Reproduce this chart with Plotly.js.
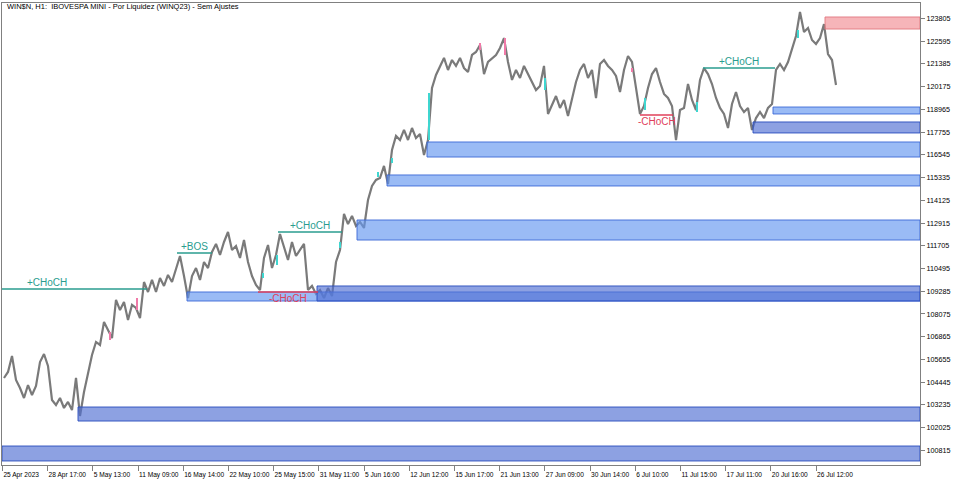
<!DOCTYPE html>
<html>
<head>
<meta charset="utf-8">
<script src="https://cdn.plot.ly/plotly-3.0.1.min.js"></script>
<style>
html,body{margin:0;padding:0;background:#fff;}
#chart{width:960px;height:487px;}
</style>
</head>
<body>
<div id="chart"></div>
<script>
// ---- price path (H1 closes, sampled) ----
const prices = [
104670,104990,105840,104565,104135,103605,104295,103765,104245,105520,
105945,105310,103500,103235,103605,103075,103395,102965,104670,102650,
103925,104830,105895,106585,106425,107650,107225,106795,108820,108285,
108715,107755,108555,108395,107860,109775,109245,109885,109245,109990,
109565,110150,109775,110520,111160,110095,108925,110095,110520,109885,
110840,110520,111375,111800,111215,111905,112435,111480,111690,111055,
112010,110840,110095,109615,109350,111055,111745,110520,111215,112330,
111585,110945,111905,111160,111480,111800,109350,109565,109140,109350,
108925,109455,109030,110840,111480,113395,112860,113290,112755,112970,
112650,114140,114885,115205,115310,115950,114990,116800,117545,117330,
117865,117330,117970,117435,117650,116535,117330,120100,120790,121270,
121695,121055,121585,121270,121695,121160,120950,121855,122015,122385,
120840,121480,121695,121855,122225,122755,121480,120525,121055,120630,
121270,120840,120415,119990,120205,121270,118715,119245,119670,119035,
119460,118610,119460,120415,121055,121375,120630,121055,119565,121375,
121585,121270,121055,120735,119885,121055,121800,121480,120100,118715,
119140,120100,120840,121160,120415,119780,119565,119140,117330,118925,
119035,120310,119460,118925,120525,121160,120840,120310,119565,119035,
118715,117970,119245,119885,119140,118820,119035,117865,118500,118820,
118500,119035,119245,121055,121375,121055,121480,122120,122865,124140,
123075,123290,122650,122440,122755,123500,121905,121585,120255
];

// ---- highlighted impulse candles ----
const impulseIdx  = [64.75, 68.25, 84, 93.5, 97, 106.25, 135.25, 160.25, 173.25, 198.5, 26.5, 33.25, 119, 125.25, 157];
const impulseLow  = [109990,110680,111585,115365,116105,117330,119990,118925,118820,122755,106690,108285,122120,121855,120950];
const impulseHigh = [110255,111215,111905,115630,116375,119830,120630,119565,119355,123185,107115,108925,122490,122755,121160];
const impulseDir  = ['up','up','up','up','up','up','up','up','up','up','down','down','down','down','down'];

// ---- order-block zones ----
const zoneStart  = [18.5, -0.5, 45.75, 78.25, 88.25, 95.75, 105.75, 192.25, 187.25, 205.25];
const zoneTop    = [103125,101050,109245,109565,113075,115470,117225,119085,118290,123875];
const zoneBottom = [102380,100255,108765,108765,112010,114885,116425,118715,117705,123235];
const zoneKind   = ['deep','deep','light','deep','light','light','light','light','deep','supply'];

// ---- market-structure breaks ----
const structLabel = ['+CHoCH','+BOS','+CHoCH','-CHoCH','-CHoCH','+CHoCH'];
const structFrom  = [-14.25, 43.25, 68.5, 63.5, 159, 174.75];
const structTo    = [35.75, 52, 84.5, 78.5, 167.25, 192.75];
const structLevel = [109405, 111320, 112435, 109245, 118660, 121160];

// ---- axis labels ----
const timeLabels = ['25 Apr 2023','28 Apr 17:00','5 May 13:00','11 May 09:00','16 May 14:00','22 May 10:00',
  '25 May 15:00','31 May 11:00','5 Jun 16:00','12 Jun 12:00','15 Jun 17:00','21 Jun 13:00','27 Jun 09:00',
  '30 Jun 14:00','6 Jul 10:00','11 Jul 15:00','17 Jul 11:00','20 Jul 16:00','26 Jul 12:00'];
const priceTicks = [100815,102025,103235,104445,105655,106865,108075,109285,110495,111705,
  112915,114125,115335,116545,117755,118965,120175,121385,122595,123805];

const X_MAX = 229;
const TEAL = '#2a9d8f';
const RED = '#e0405a';

const traces = [];
traces.push({
  type:'scatter', mode:'lines',
  x: prices.map((_, i) => i), y: prices,
  line:{color:'#7a7a7a', width:2.2},
  hoverinfo:'skip', showlegend:false
});
['up','down'].forEach(dir => {
  const xs = [], ys = [];
  impulseIdx.forEach((xi, k) => {
    if (impulseDir[k] !== dir) return;
    xs.push(xi, xi, null); ys.push(impulseLow[k], impulseHigh[k], null);
  });
  traces.push({type:'scatter', mode:'lines', x:xs, y:ys,
    line:{color: dir === 'up' ? '#3fd6d0' : '#f07aa8', width:2},
    hoverinfo:'skip', showlegend:false});
});

const zoneStyle = {
  light:  {fill:'rgba(100,150,240,0.65)', line:'rgba(60,105,215,0.9)'},
  deep:   {fill:'rgba(80,110,210,0.65)',  line:'rgba(40,75,190,0.9)'},
  supply: {fill:'rgba(235,90,100,0.45)',  line:'rgba(225,120,128,0.9)'}
};
const shapes = [];
zoneStart.forEach((x0, k) => {
  const st = zoneStyle[zoneKind[k]];
  shapes.push({type:'rect', xref:'x', yref:'y', x0:x0, x1:X_MAX, y0:zoneBottom[k], y1:zoneTop[k],
    fillcolor:st.fill, line:{color:st.line, width:1}, layer:'above'});
});
const annotations = [];
structLabel.forEach((lab, k) => {
  const bull = lab[0] === '+';
  const col = bull ? TEAL : RED;
  shapes.push({type:'line', xref:'x', yref:'y', x0:structFrom[k], x1:structTo[k],
    y0:structLevel[k], y1:structLevel[k], line:{color:col, width:1.5}, layer:'above'});
  annotations.push({xref:'x', yref:'y', x:(structFrom[k] + structTo[k]) / 2, y:structLevel[k],
    text:lab, showarrow:false, xanchor:'center', yanchor: bull ? 'bottom' : 'top',
    yshift: bull ? -1 : 1,
    font:{family:'Liberation Sans, Arial, sans-serif', size:10, color:col}});
});
annotations.push({xref:'paper', yref:'paper', x:0.003, y:0.992, xanchor:'left', yanchor:'middle',
  text:'WIN$N, H1:\u00a0 IBOVESPA MINI - Por Liquidez (WINQ23) - Sem Ajustes', showarrow:false,
  font:{family:'Liberation Sans, Arial, sans-serif', size:7.5, color:'#000'}});

const layout = {
  width:960, height:487,
  margin:{l:2, r:40, t:3, b:22},
  paper_bgcolor:'#fff', plot_bgcolor:'#fff',
  showlegend:false,
  xaxis:{
    range:[-0.5, X_MAX], showgrid:false, zeroline:false,
    showline:true, linecolor:'#808080', linewidth:1, mirror:true,
    ticks:'outside', ticklen:5, tickcolor:'#808080',
    tickvals: timeLabels.map((_, k) => -0.4 + 11.3 * k),
    ticktext: timeLabels,
    tickangle:0, automargin:false,
    ticklabelposition:'outside right',
    ticklabelstandoff:3,
    tickfont:{family:'Liberation Sans, Arial, sans-serif', size:6.6, color:'#000'}
  },
  yaxis:{
    range:[100041, 124619], side:'right', showgrid:false, zeroline:false,
    showline:true, linecolor:'#808080', linewidth:1, mirror:true,
    ticks:'outside', ticklen:4, tickcolor:'#808080', automargin:false,
    tickvals: priceTicks, tickformat:'d',
    tickfont:{family:'Liberation Sans, Arial, sans-serif', size:7.2, color:'#000'}
  },
  shapes: shapes,
  annotations: annotations
};
Plotly.newPlot('chart', traces, layout, {staticPlot:true, displayModeBar:false});
</script>
</body>
</html>
